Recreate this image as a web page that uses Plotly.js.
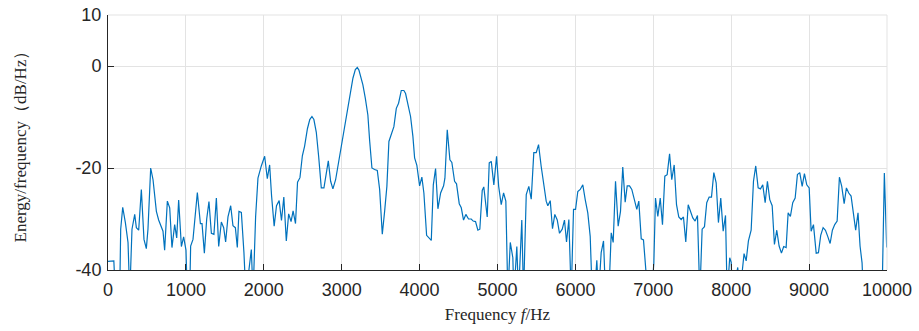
<!DOCTYPE html>
<html>
<head>
<meta charset="utf-8">
<script src="https://cdn.plot.ly/plotly-3.0.1.min.js"></script>
<style>html,body{margin:0;padding:0;background:#fff;}#chart{width:919px;height:331px;}</style>
</head>
<body>
<div id="chart"></div>
<script>
// Frequency axis (Hz)
const freq = [0,40,75,95,150,163,189,223,257,279,300,308,343,364,394,428,462,492,513,548,578,621,650,706,727,762,792,821,856,882,907,942,971,1001,1018,1048,1061,1091,1147,1186,1207,1237,1267,1296,1327,1360,1391,1421,1455,1485,1510,1540,1575,1604,1635,1660,1681,1712,1745,1770,1840,1862,1895,1925,1968,2011,2045,2075,2100,2133,2163,2197,2227,2257,2289,2319,2350,2376,2407,2433,2464,2495,2524,2560,2590,2618,2643,2674,2704,2738,2772,2802,2828,2858,2887,2922,2951,2986,3021,3050,3080,3114,3144,3175,3200,3221,3243,3272,3303,3336,3358,3388,3422,3457,3487,3521,3551,3580,3606,3637,3670,3701,3730,3765,3798,3820,3850,3884,3914,3936,3965,4000,4029,4055,4090,4150,4176,4205,4235,4270,4308,4325,4355,4389,4414,4449,4474,4509,4535,4564,4594,4628,4663,4688,4718,4748,4773,4804,4824,4868,4894,4920,4953,4988,5015,5048,5078,5107,5133,5164,5197,5210,5248,5270,5312,5334,5369,5402,5433,5466,5497,5527,5561,5595,5625,5646,5677,5706,5736,5767,5796,5831,5860,5886,5916,5946,5976,6002,6031,6062,6095,6126,6159,6190,6216,6245,6275,6297,6331,6361,6387,6429,6460,6485,6515,6549,6579,6608,6639,6665,6695,6724,6759,6788,6814,6845,6874,6909,6930,6977,7007,7028,7058,7089,7118,7148,7178,7209,7237,7268,7298,7327,7358,7387,7417,7448,7477,7507,7537,7567,7597,7627,7657,7686,7717,7747,7777,7807,7836,7866,7897,7927,7948,7981,8000,8016,8084,8110,8165,8192,8221,8256,8286,8315,8346,8376,8405,8436,8465,8495,8526,8555,8585,8615,8645,8674,8705,8731,8760,8790,8821,8850,8880,8911,8940,8970,9001,9026,9056,9091,9120,9149,9180,9210,9239,9270,9299,9329,9360,9389,9419,9450,9479,9509,9539,9569,9598,9628,9654,9680,9697,9937,9966,9996];
// Energy/frequency (dB/Hz); values below -40 run off the bottom of the plot
const psd = [-38.3,-38.2,-38.2,-45,-45,-32.0,-27.7,-30.7,-34.6,-45,-34,-32,-29.1,-31.7,-32.2,-24.2,-34,-35.8,-32,-20.0,-22.3,-28.5,-30.2,-32.4,-36.1,-26.5,-27.8,-35.6,-31.1,-33.7,-26.3,-35.4,-33.5,-36.1,-45,-45,-35.3,-34,-24.8,-30.9,-30.9,-36.7,-30,-26.6,-32.8,-33,-25.9,-35.4,-30.6,-31.7,-34.5,-29.6,-27.4,-31.3,-31.7,-35.6,-28.5,-28.7,-36.6,-45,-36,-45,-29.5,-22,-19.6,-17.7,-22.1,-19.4,-25.5,-31.4,-27.4,-26.4,-30.3,-25.7,-34.3,-29,-30.5,-28.4,-30.9,-22.8,-21.9,-17.6,-15.7,-12.3,-10.5,-9.9,-10.5,-13,-17.7,-23.9,-23.9,-20.7,-18.6,-22.6,-24.1,-22.3,-19.7,-15.8,-12.9,-10.9,-8,-4.7,-2.4,-0.7,-0.3,-0.8,-2.1,-3.7,-6.3,-9.6,-14.5,-20.0,-20.3,-20.5,-24.2,-33,-28.5,-23.6,-14.8,-13.5,-11.9,-8.3,-7.3,-4.8,-4.8,-5.4,-7.6,-9.9,-13.8,-18.0,-19.5,-23.5,-21.8,-24.9,-33.2,-34.2,-23.3,-20.1,-28.0,-24.9,-23.5,-22.0,-12.5,-18.4,-18.9,-22.6,-23.1,-27,-27.8,-30.2,-29.1,-30,-30,-30.4,-30.5,-32.2,-32,-24.4,-23.7,-29.6,-19.0,-18.7,-23.3,-17.7,-23.6,-27.2,-24.9,-26.5,-45,-34.6,-37.6,-45,-35.4,-45,-30.2,-45,-25.2,-23.6,-26.1,-17,-17,-15.4,-19.7,-23.6,-26.5,-27.4,-26.4,-31.9,-29.1,-30.2,-32.8,-32,-30.2,-34.5,-30.1,-45,-28.1,-28.1,-24.6,-24.2,-23.3,-26.2,-28.8,-33.4,-45,-45,-38.1,-45,-36.6,-34.3,-45,-45,-32.7,-34.6,-22.6,-31.4,-28.5,-19.8,-26.7,-23.5,-23.5,-24.2,-26.2,-28.1,-26.5,-33.9,-34.1,-39.2,-45,-45,-38.6,-25.9,-29.5,-25.9,-31.1,-21.6,-21.3,-17.2,-22.3,-19.4,-27.2,-29.6,-30.1,-29.6,-34.5,-27.2,-28.5,-29.8,-30.4,-29.3,-45,-32,-31.5,-26.8,-25.7,-25.7,-20.9,-22.9,-30.7,-25.9,-32.4,-29.3,-45,-37.6,-38.5,-45,-39.5,-45,-36.8,-38.2,-34.3,-32.2,-22.6,-19.6,-23.9,-24.1,-23.3,-26.8,-22.6,-26.2,-27.4,-35,-32.2,-35.3,-36.7,-35.4,-35.6,-28.8,-29.5,-26.8,-25.9,-21.3,-20.9,-23.6,-21.1,-23.3,-23.9,-32.4,-31.1,-36.7,-36.6,-33.2,-31.7,-32.2,-33.4,-34.8,-32.2,-31.1,-30.4,-21.8,-23.6,-27,-23.9,-24.9,-25.5,-29.1,-32.2,-28.8,-35.3,-38.6,-45,-45,-21,-35.6];
const xTicks = [0,1000,2000,3000,4000,5000,6000,7000,8000,9000,10000];
const yTicks = [-40,-20,0,10];

const trace = {
  x: freq, y: psd, type: 'scatter', mode: 'lines',
  line: {color: '#0072BD', width: 1.2},
  hoverinfo: 'skip'
};
const tickFont = {family: '"Liberation Sans", Arial, sans-serif', size: 18, color: '#262626'};
const titleFont = {family: '"Liberation Serif", "Times New Roman", serif', size: 17, color: '#262626'};
const layout = {
  width: 919, height: 331,
  margin: {l: 108, r: 32, t: 15, b: 61},
  paper_bgcolor: '#fff', plot_bgcolor: '#fff',
  showlegend: false,
  xaxis: {
    range: [0, 10000], tickvals: xTicks, ticktext: xTicks.map(String),
    showgrid: true, gridcolor: '#e3e3e3', gridwidth: 1,
    showline: true, linecolor: '#262626', linewidth: 1,
    ticks: 'inside', ticklen: 6, tickcolor: '#262626',
    tickfont: tickFont, zeroline: false, ticklabelstandoff: 3,
    title: {text: 'Frequency <i>f</i>/Hz', font: titleFont, standoff: 9}
  },
  yaxis: {
    range: [-40, 10], tickvals: yTicks, ticktext: yTicks.map(String),
    showgrid: true, gridcolor: '#e3e3e3', gridwidth: 1,
    showline: true, linecolor: '#262626', linewidth: 1,
    ticks: 'inside', ticklen: 6, tickcolor: '#262626',
    tickfont: tickFont, zeroline: false, ticklabelstandoff: 2,
    title: {text: 'Energy/frequency（dB/Hz）', font: titleFont, standoff: 44}
  },
  shapes: [
    {type: 'line', xref: 'paper', yref: 'paper', x0: 0, x1: 1, y0: 1, y1: 1, line: {color: '#e3e3e3', width: 1}},
    {type: 'line', xref: 'paper', yref: 'paper', x0: 1, x1: 1, y0: 0, y1: 1, line: {color: '#e3e3e3', width: 1}}
  ]
};
Plotly.newPlot('chart', [trace], layout, {displayModeBar: false, staticPlot: true});
</script>
</body>
</html>
